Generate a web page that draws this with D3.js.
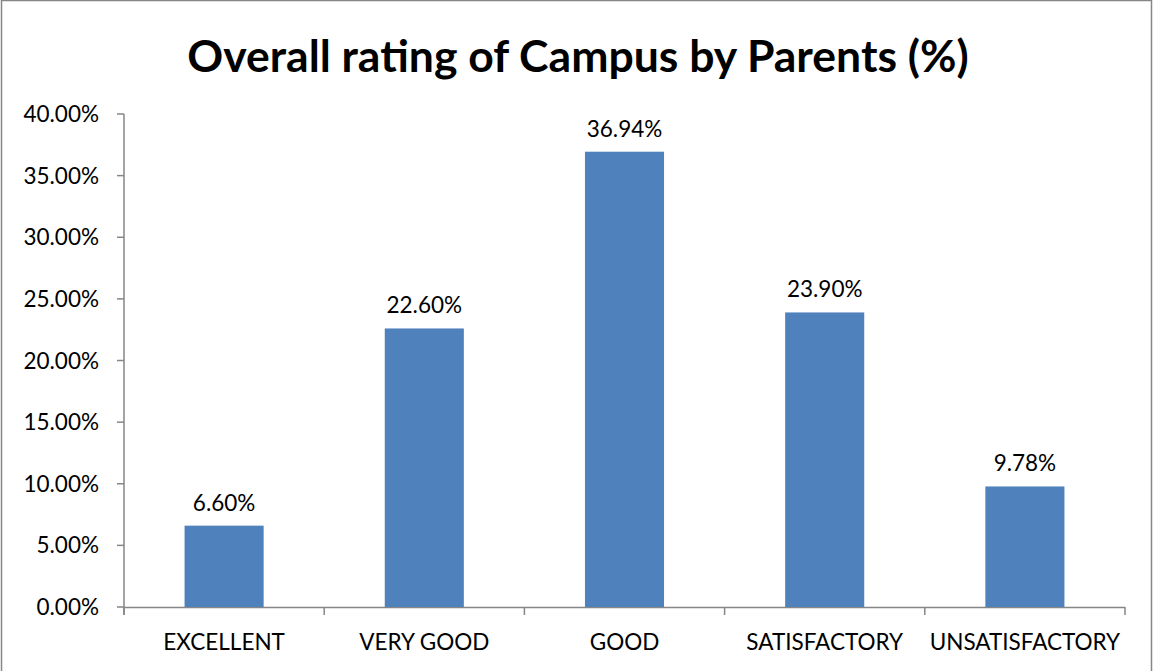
<!DOCTYPE html>
<html>
<head>
<meta charset="utf-8">
<script src="https://cdn.jsdelivr.net/npm/d3@7"></script>
<style>
  body { margin: 0; background: #fff; }
  text { font-family: Lato, "Open Sans", sans-serif; fill: #000; }
</style>
</head>
<body>
<div id="chart"></div>
<script>
// chart data
var categories = ["EXCELLENT", "VERY GOOD", "GOOD", "SATISFACTORY", "UNSATISFACTORY"];
var values = [6.60, 22.60, 36.94, 23.90, 9.78];
var yTicks = [0, 5, 10, 15, 20, 25, 30, 35, 40];

var W = 1154, H = 671;
var margin = {top: 114, right: 29, bottom: 64, left: 124},
    width = W - margin.left - margin.right,
    height = H - margin.top - margin.bottom;

var root = d3.select("#chart")
  .append("svg")
    .attr("width", W)
    .attr("height", H);

// outer border
root.append("rect")
  .attr("x", 1.5).attr("y", 0.5)
  .attr("width", 1150).attr("height", 680)
  .attr("fill", "none")
  .attr("stroke", "#868686")
  .attr("stroke-width", 1.5);

// title
root.append("text")
  .attr("x", 578)
  .attr("y", 72)
  .attr("text-anchor", "middle")
  .style("font-size", "44.5px")
  .style("font-weight", "bold")
  .text("Overall rating of Campus by Parents (%)");

var svg = root.append("g")
  .attr("transform", "translate(" + margin.left + "," + margin.top + ")");

// x axis
var x = d3.scaleBand()
  .range([0, width])
  .domain(categories)
  .paddingInner(0.605)
  .paddingOuter(0.3025);

var xAxis = svg.append("g")
  .attr("transform", "translate(0," + height + ")");

xAxis.append("line")
  .attr("x1", 0).attr("x2", width)
  .attr("y1", 0.5).attr("y2", 0.5)
  .attr("stroke", "#868686").attr("stroke-width", 1.5);

var step = width / categories.length;
xAxis.selectAll(".xt")
  .data(d3.range(categories.length + 1))
  .enter()
  .append("line")
    .attr("x1", function(i) { return i * step; })
    .attr("x2", function(i) { return i * step; })
    .attr("y1", 0).attr("y2", 8)
    .attr("stroke", "#868686").attr("stroke-width", 1.5);

xAxis.selectAll(".xl")
  .data(categories)
  .enter()
  .append("text")
    .attr("x", function(d) { return x(d) + x.bandwidth() / 2; })
    .attr("y", 43)
    .attr("text-anchor", "middle")
    .style("font-size", "22.5px")
    .text(function(d) { return d; });

// y axis
var y = d3.scaleLinear()
  .range([height, 0])
  .domain([0, 40]);

svg.append("line")
  .attr("x1", 0).attr("x2", 0)
  .attr("y1", 0).attr("y2", height + 8)
  .attr("stroke", "#868686").attr("stroke-width", 1.5);

svg.selectAll(".yt")
  .data(yTicks)
  .enter()
  .append("line")
    .attr("x1", -7).attr("x2", 0)
    .attr("y1", function(d) { return y(d); })
    .attr("y2", function(d) { return y(d); })
    .attr("stroke", "#868686").attr("stroke-width", 1.5);

svg.selectAll(".yl")
  .data(yTicks)
  .enter()
  .append("text")
    .attr("x", -25)
    .attr("y", function(d) { return y(d) + 8; })
    .attr("text-anchor", "end")
    .style("font-size", "22.5px")
    .text(function(d) { return d.toFixed(2) + "%"; });

// bars
svg.selectAll("mybar")
  .data(values)
  .enter()
  .append("rect")
    .attr("x", function(d, i) { return x(categories[i]); })
    .attr("y", function(d) { return y(d); })
    .attr("width", x.bandwidth())
    .attr("height", function(d) { return height - y(d); })
    .attr("fill", "#4F81BD");

// value labels
svg.selectAll(".vl")
  .data(values)
  .enter()
  .append("text")
    .attr("x", function(d, i) { return x(categories[i]) + x.bandwidth() / 2; })
    .attr("y", function(d) { return y(d) - 15; })
    .attr("text-anchor", "middle")
    .style("font-size", "22.5px")
    .text(function(d) { return d.toFixed(2) + "%"; });
</script>
</body>
</html>
